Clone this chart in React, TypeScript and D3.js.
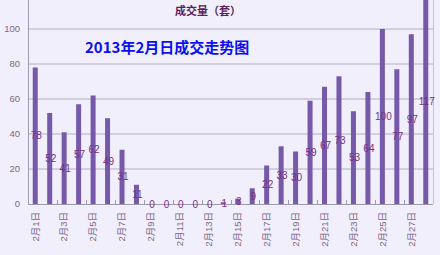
import React from "react";
import * as d3 from "d3";

const days: string[] = Array.from({ length: 28 }, (_, i) => `2月${i + 1}日`);
const values: number[] = [78, 52, 41, 57, 62, 49, 31, 11, 0, 0, 0, 0, 0, 1, 3, 9, 22, 33, 30, 59, 67, 73, 53, 64, 100, 77, 97, 117];
const yTicks: number[] = [0, 20, 40, 60, 80, 100];
const titleText = "成交量（套）";
const subtitleText = "2013年2月日成交走势图";

const W = 440;
const H = 255;
const left = 28;
const right = 433;
const bottom = 204;
const top100 = 29;

export default function App() {
  const x = d3.scaleBand<string>().domain(days).range([left, right]).padding(0);
  const y = d3.scaleLinear().domain([0, 100]).range([bottom, top100]);
  const bw = x.bandwidth();
  const barW = 5;
  const cjk = "'Liberation Sans', 'Noto Sans CJK SC', sans-serif";

  return (
    <svg width={W} height={H} style={{ position: "absolute", left: 0, top: 0 }}>
      <rect x={0} y={0} width={W} height={H} fill="#f1effc" />
      {/* grid */}
      {yTicks.filter((t) => t > 0).map((t) => (
        <line key={t} x1={left} x2={right} y1={y(t)} y2={y(t)} stroke="#b2b0c0" strokeWidth={1} />
      ))}
      {/* right border */}
      <line x1={right + 0.5} x2={right + 0.5} y1={0} y2={bottom} stroke="#c4c2d0" strokeWidth={1} />
      {/* bars */}
      {values.map((v, i) => {
        const cx = (x(days[i]) as number) + bw / 2;
        return (
          <rect
            key={i}
            x={cx - barW / 2}
            y={y(v)}
            width={barW}
            height={bottom - y(v)}
            fill="#7659a8"
          />
        );
      })}
      {/* axes */}
      <line x1={left + 0.5} x2={left + 0.5} y1={0} y2={bottom} stroke="#9c9aac" strokeWidth={1} />
      <line x1={left} x2={right} y1={bottom + 0.5} y2={bottom + 0.5} stroke="#9c9aac" strokeWidth={1} />
      {days.map((d, i) =>
        i > 0 && i % 2 === 0 ? (
          <line
            key={d}
            x1={Math.round(x(d) as number) + 0.5}
            x2={Math.round(x(d) as number) + 0.5}
            y1={bottom}
            y2={bottom - 4}
            stroke="#9c9aac"
          />
        ) : null
      )}
      {/* y labels */}
      {yTicks.map((t) => (
        <text
          key={t}
          x={20}
          y={y(t)}
          dy="0.35em"
          textAnchor="end"
          fontSize={9.5}
          fontFamily={cjk}
          fill="#7d6888"
        >
          {t}
        </text>
      ))}
      {/* x labels */}
      {days.map((d, i) => {
        if (i % 2 !== 0) return null;
        const cx = (x(d) as number) + bw / 2;
        return (
          <text
            key={d}
            transform={`translate(${cx},212) rotate(-90)`}
            dy="0.35em"
            textAnchor="end"
            fontSize={9.5}
            fontFamily={cjk}
            fill="#7d6888"
          >
            {d}
          </text>
        );
      })}
      {/* value labels */}
      {values.map((v, i) => {
        const cx = (x(days[i]) as number) + bw / 2;
        const cy = (y(v) + bottom) / 2;
        return (
          <text
            key={i}
            x={cx + 1}
            y={cy}
            dy="0.35em"
            textAnchor="middle"
            fontSize={10}
            fontFamily={cjk}
            fill="#7a2f82"
          >
            {v}
          </text>
        );
      })}
      {/* titles */}
      <text x={175} y={11} dy="0.35em" fontSize={11} fontWeight="bold" fontFamily="'Noto Sans CJK SC', sans-serif" fill="#5a1f5c">
        {titleText}
      </text>
      <text x={85} y={48} dy="0.35em" fontSize={15} fontWeight="bold" fontFamily="'Noto Sans CJK SC', sans-serif" fill="#0a10f0">
        {subtitleText}
      </text>
    </svg>
  );
}
